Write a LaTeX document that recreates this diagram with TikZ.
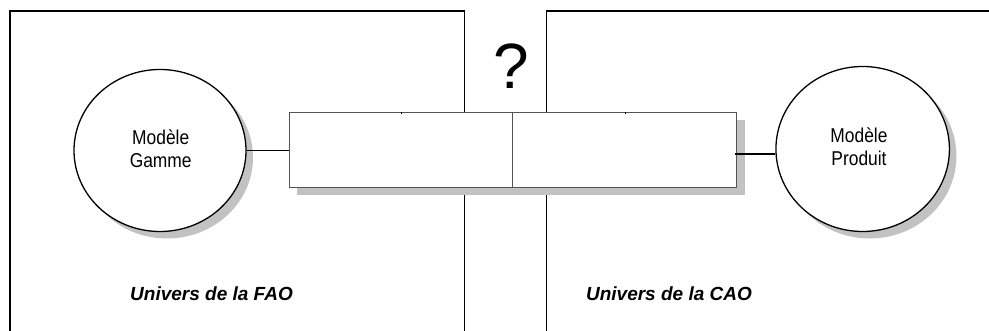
\documentclass[tikz,border=0pt]{standalone}
\usepackage{fontspec}
\setmainfont{Liberation Sans}
\newfontfamily\narrowfont[FakeStretch=0.87]{Liberation Sans}
\usetikzlibrary{shapes.geometric}
\definecolor{shadowgray}{gray}{0.76}
\definecolor{rectgray}{gray}{0.33}
\tikzset{
  univers/.style={draw=black, line width=1.3pt},
  model/.style={ellipse, draw=black, line width=1.3pt, fill=white, align=center,
    font=\narrowfont\fontsize{20}{23.4}\selectfont, inner sep=0pt},
  modelshadow/.style={ellipse, fill=shadowgray, draw=none, inner sep=0pt},
  bridge/.style={draw=rectgray, line width=1pt, fill=white},
  link/.style={draw=black, line width=1.3pt},
  label/.style={font=\fontsize{19}{22}\selectfont\bfseries\itshape, inner sep=0pt},
}
\begin{document}
\begin{tikzpicture}[x=1pt, y=-1pt]
\useasboundingbox (0,0) rectangle (989,331);
\fill[white] (0,0) rectangle (989,331);
% universe boxes
\draw[univers] (10,332) -- (10,11) -- (464.3,11) -- (464.3,332);
\draw[univers] (546.7,332) -- (546.7,11) -- (990,11);
% question mark
\node[font=\fontsize{64}{70}\selectfont, inner sep=0pt] (q) at (511,66) {?};
% bridge rectangle with shadow
\fill[shadowgray] (297,120.5) rectangle (744.5,195.5);
\draw[bridge] (289.3,112.7) rectangle (512.7,187.7);
\draw[bridge] (512.7,112.7) rectangle (736.7,187.7);
\node[inner sep=0pt, minimum width=447.4pt, minimum height=75pt] (br) at (513,150.2) {};
\draw[black, line width=1pt] (401.7,112.2) -- (401.7,113.7);
\draw[black, line width=1pt] (625,112.2) -- (625,113.7);
% models
\node[modelshadow, minimum width=172pt, minimum height=162pt] at (167,157.5) {};
\node[model, minimum width=172pt, minimum height=162pt] (gamme) at (160,150.5) {};
\node[align=center, font=\narrowfont\fontsize{20}{23.4}\selectfont, inner sep=0pt] (gammetxt) at (160.7,148.5) {Modèle\\Gamme};
\node[modelshadow, minimum width=173.5pt, minimum height=165pt] at (869.7,156) {};
\node[model, minimum width=173.5pt, minimum height=165pt] (produit) at (862.7,149) {};
\node[align=center, font=\narrowfont\fontsize{20}{23.4}\selectfont, inner sep=0pt] (produittxt) at (859,146.5) {Modèle\\Produit};
% connectors
\coordinate (brL) at (289.3,150.7);
\coordinate (brR) at (735,154);
\draw[link] (gamme.east |- brL) -- (brL);
\draw[link] (brR) -- (produit.west |- brR);
% labels
\node[label] (fao) at (211.5,294) {Univers de la FAO};
\node[label] (cao) at (669,294) {Univers de la CAO};
\end{tikzpicture}
\end{document}
